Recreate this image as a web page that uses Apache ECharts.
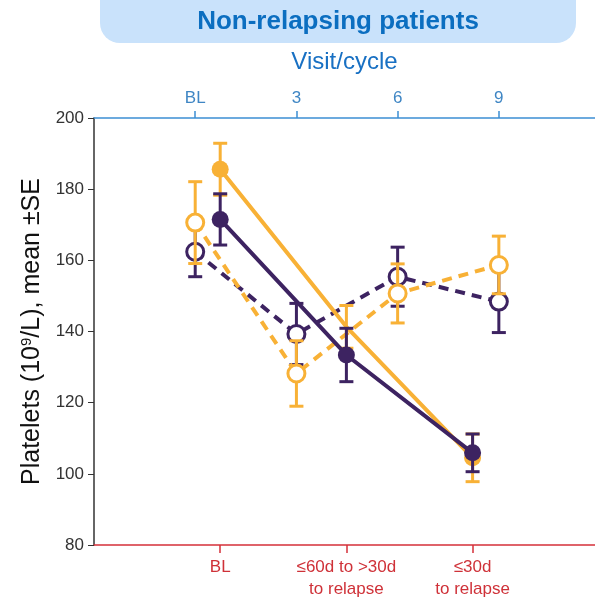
<!DOCTYPE html>
<html>
<head>
<meta charset="utf-8">
<script src="https://cdn.jsdelivr.net/npm/echarts@6/dist/echarts.min.js"></script>
<style>html,body{margin:0;padding:0;background:#fff;}#c{width:595px;height:597px;}</style>
</head>
<body>
<div id="c"></div>
<script>
// Bottom axis (time to relapse) – relapsing patients, filled markers, solid lines
var relapseCats = ['BL', '≤60d to >30d\nto relapse', '≤30d\nto relapse'];
var relapseX = [1, 2, 3];
var relYellowMean = [185.6, 141.3, 104.5];
var relYellowSE = [7.3, 6.0, 6.7];
var relPurpleMean = [171.5, 133.4, 105.9];
var relPurpleSE = [7.2, 7.5, 5.3];

// Top axis (visit/cycle) – non-relapsing patients, open markers, dashed lines
var visitCats = ['BL', '3', '6', '9'];
var visitX = [0, 1, 2, 3];
var nonYellowMean = [170.6, 128.2, 150.7, 158.7];
var nonYellowSE = [11.5, 9.2, 8.3, 8.1];
var nonPurpleMean = [162.4, 139.3, 155.4, 148.4];
var nonPurpleSE = [7.0, 8.6, 8.3, 8.7];

var yTicks = [80, 100, 120, 140, 160, 180, 200];

var YEL = '#F8B136';
var PUR = '#3D2361';

function pairs(xs, ys) { return xs.map(function (x, i) { return [x, ys[i]]; }); }
function errs(xs, m, se) { return xs.map(function (x, i) { return [x, m[i] - se[i], m[i] + se[i]]; }); }

function errSeries(xIdx, data, color, z) {
  return {
    type: 'custom', xAxisIndex: xIdx, z: z, silent: true,
    encode: { x: 0, y: [1, 2] },
    data: data,
    renderItem: function (params, api) {
      var x = api.value(0);
      var lo = api.coord([x, api.value(1)]);
      var hi = api.coord([x, api.value(2)]);
      var w = 7;
      var st = { stroke: color, lineWidth: 3 };
      return {
        type: 'group', children: [
          { type: 'line', shape: { x1: lo[0], y1: lo[1], x2: hi[0], y2: hi[1] }, style: st },
          { type: 'line', shape: { x1: lo[0] - w, y1: lo[1], x2: lo[0] + w, y2: lo[1] }, style: st },
          { type: 'line', shape: { x1: hi[0] - w, y1: hi[1], x2: hi[0] + w, y2: hi[1] }, style: st }
        ]
      };
    }
  };
}

var chart = echarts.init(document.getElementById('c'), null, { renderer: 'canvas' });
var FONT = 'Liberation Sans, Arial, sans-serif';

var relYellowData = pairs(relapseX, relYellowMean);
relYellowData[1] = { value: relYellowData[1], symbolSize: 0 };

chart.setOption({
  animation: false,
  textStyle: { fontFamily: FONT },
  graphic: [
    { type: 'rect', shape: { x: 100, y: -22, width: 476, height: 65, r: 20 }, style: { fill: '#C9E2FB' }, z: 0 },
    { type: 'text', x: 338, y: 22, style: { text: 'Non-relapsing patients', fill: '#0B6EC0', font: 'bold 26px ' + FONT, textAlign: 'center', textVerticalAlign: 'middle' }, z: 1 }
  ],
  grid: { left: 94, right: 0, top: 118, bottom: 52, containLabel: false, outerBoundsMode: 'none' },
  xAxis: [
    {
      type: 'value', position: 'bottom', min: 0, max: 3.97, interval: 1,
      axisLine: { show: true, lineStyle: { color: '#D5313A', width: 1.5 } },
      axisTick: { show: true, customValues: relapseX, length: 8, lineStyle: { color: '#D5313A', width: 1.5 } },
      axisLabel: {
        customValues: relapseX, color: '#CF3138', fontSize: 17, margin: 12, lineHeight: 21.5,
        formatter: function (v) { return relapseCats[Math.round(v) - 1] || ''; }
      },
      splitLine: { show: false }
    },
    {
      type: 'value', position: 'top', min: -1, max: 3.95, interval: 1,
      name: 'Visit/cycle', nameLocation: 'middle', nameGap: 44,
      nameTextStyle: { color: '#1870C3', fontSize: 24 },
      axisLine: { show: true, lineStyle: { color: '#3C8FD3', width: 1.5 } },
      axisTick: { show: true, customValues: visitX, length: 7, lineStyle: { color: '#3C8FD3', width: 1.5 } },
      axisLabel: {
        customValues: visitX, color: '#3F86C4', fontSize: 17, margin: 11,
        formatter: function (v) { return visitCats[Math.round(v)] || ''; }
      },
      splitLine: { show: false }
    }
  ],
  yAxis: {
    type: 'value', min: 80, max: 200, interval: 20,
    name: '{a|Platelets (10}{s|9}{a|/L), mean ±SE}', nameLocation: 'middle', nameGap: 47, nameRotate: 90,
    nameTextStyle: {
      rich: {
        a: { fontSize: 25, color: '#111', fontFamily: FONT },
        s: { fontSize: 15, color: '#111', fontFamily: FONT, verticalAlign: 'top', padding: [0, 0, 10, 0] }
      }
    },
    axisLine: { show: true, lineStyle: { color: '#333', width: 1.5 } },
    axisTick: { show: true, length: 6, lineStyle: { color: '#333' } },
    axisLabel: { color: '#333', fontSize: 17, margin: 10, customValues: yTicks },
    splitLine: { show: false }
  },
  series: [
    {
      type: 'line', xAxisIndex: 1, z: 2, data: pairs(visitX, nonPurpleMean),
      lineStyle: { color: PUR, width: 4, type: [10, 7] },
      symbol: 'circle', symbolSize: 17,
      itemStyle: { color: '#fff', borderColor: PUR, borderWidth: 3 }
    },
    errSeries(1, errs(visitX, nonPurpleMean, nonPurpleSE), PUR, 2),
    {
      type: 'line', xAxisIndex: 1, z: 3, data: pairs(visitX, nonYellowMean),
      lineStyle: { color: YEL, width: 4, type: [10, 7] },
      symbol: 'circle', symbolSize: 17,
      itemStyle: { color: '#fff', borderColor: YEL, borderWidth: 3 }
    },
    errSeries(1, errs(visitX, nonYellowMean, nonYellowSE), YEL, 3),
    {
      type: 'line', xAxisIndex: 0, z: 4, data: relYellowData,
      lineStyle: { color: YEL, width: 4 },
      symbol: 'circle', symbolSize: 17,
      itemStyle: { color: YEL }
    },
    errSeries(0, errs(relapseX, relYellowMean, relYellowSE), YEL, 4),
    {
      type: 'line', xAxisIndex: 0, z: 5, data: pairs(relapseX, relPurpleMean),
      lineStyle: { color: PUR, width: 4 },
      symbol: 'circle', symbolSize: 17,
      itemStyle: { color: PUR }
    },
    errSeries(0, errs(relapseX, relPurpleMean, relPurpleSE), PUR, 5)
  ]
});
</script>
</body>
</html>
